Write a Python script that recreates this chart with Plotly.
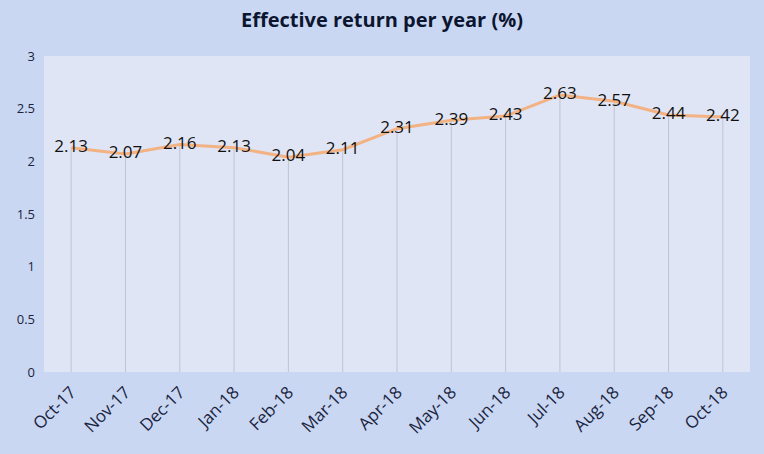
import plotly.graph_objects as go

months = ["Oct-17", "Nov-17", "Dec-17", "Jan-18", "Feb-18", "Mar-18", "Apr-18",
          "May-18", "Jun-18", "Jul-18", "Aug-18", "Sep-18", "Oct-18"]
returns = [2.13, 2.07, 2.16, 2.13, 2.04, 2.11, 2.31, 2.39, 2.43, 2.63, 2.57, 2.44, 2.42]
y_ticks = [0, 0.5, 1, 1.5, 2, 2.5, 3]

fig = go.Figure()
# drop lines from each point to the axis
fig.add_trace(go.Scatter(
    x=months, y=returns, mode="markers", marker=dict(size=0.1, opacity=0),
    error_y=dict(type="data", symmetric=False, array=[0] * len(returns),
                 arrayminus=returns, width=0, thickness=1, color="#bfc4d2"),
    hoverinfo="skip",
))
fig.add_trace(go.Scatter(
    x=months, y=returns, mode="lines+text",
    line=dict(color="#f2b283", width=3),
    text=[f"{v:.2f}" for v in returns], textposition="middle center",
    textfont=dict(family="Open Sans", size=17, color="#111111"),
    cliponaxis=False,
))

fig.update_layout(
    width=764, height=454,
    paper_bgcolor="#c9d7f2", plot_bgcolor="#dfe5f5",
    margin=dict(l=44, r=14, t=56, b=82),
    title=dict(text="<b>Effective return per year (%)</b>", x=0.5, xanchor="center",
               y=0.955, yanchor="middle",
               font=dict(family="Open Sans", size=20, color="#0b1530")),
    showlegend=False,
)
fig.update_xaxes(type="category", range=[-0.5, 12.5], tickangle=-45,
                 showgrid=False, showline=False, zeroline=False, ticks="",
                 ticklabelstandoff=6,
                 tickfont=dict(family="Open Sans", size=17, color="#1a2440"))
fig.update_yaxes(range=[0, 3], tickvals=y_ticks, ticktext=[f"{t:g}" for t in y_ticks],
                 showgrid=False, zeroline=False, showline=False, ticks="",
                 ticklabelstandoff=8,
                 tickfont=dict(family="Open Sans", size=13, color="#1a2440"))

fig.write_html("out.html", config={"displayModeBar": False},
               post_script="document.body.style.margin='0';")
